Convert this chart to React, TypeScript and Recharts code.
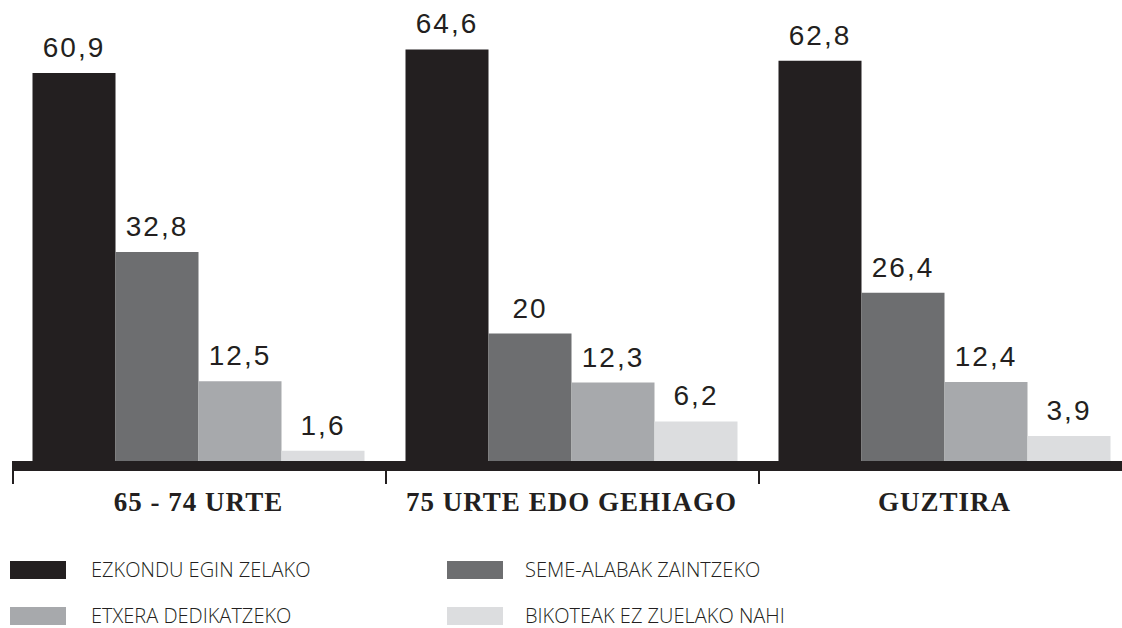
import React from "react";
import { BarChart, Bar, XAxis, YAxis, LabelList, Legend } from "recharts";

// categories and series values
const categories = ["65 - 74 URTE", "75 URTE EDO GEHIAGO", "GUZTIRA"];
const ezkondu = [60.9, 64.6, 62.8];
const semeAlabak = [32.8, 20, 26.4];
const etxera = [12.5, 12.3, 12.4];
const bikoteak = [1.6, 6.2, 3.9];

const seriesNames = [
  "EZKONDU EGIN ZELAKO",
  "SEME-ALABAK ZAINTZEKO",
  "ETXERA DEDIKATZEKO",
  "BIKOTEAK EZ ZUELAKO NAHI",
];
const colors = ["#231f20", "#6d6e70", "#a7a9ac", "#dcdddf"];

const data = categories.map((name, i) => ({
  name,
  s0: ezkondu[i],
  s1: semeAlabak[i],
  s2: etxera[i],
  s3: bikoteak[i],
}));

const CHART_W = 1135;
const CHART_H = 628;
const MARGIN = { top: 15, right: 4, left: 12, bottom: 22 };
const BAND = (CHART_W - MARGIN.left - MARGIN.right) / categories.length;
const INK = "#231f20";

const fmt = (v: any) => String(v).replace(".", ",");

const CategoryTick = (props: any) => {
  const { x, y, payload } = props;
  const bx = x - BAND / 2 + 1;
  return (
    <g>
      <line x1={bx} x2={bx} y1={y + 5} y2={y + 18} stroke={INK} strokeWidth={2} />
      <text
        x={x}
        y={y + 45}
        textAnchor="middle"
        fill={INK}
        fontFamily="'Liberation Serif', 'Times New Roman', serif"
        fontWeight="bold"
        fontSize={27}
        letterSpacing={1}
      >
        {payload.value}
      </text>
    </g>
  );
};

const LegendBox = () => {
  // two columns, two rows as in the reference
  const order = [0, 1, 2, 3];
  return (
    <div style={{ display: "flex", flexWrap: "wrap", width: 1122 }}>
      {order.map((i) => (
        <div
          key={i}
          style={{
            width: i % 2 === 0 ? 437 : 600,
            height: 46,
            display: "flex",
            alignItems: "center",
          }}
        >
          <div style={{ width: 56, height: 18, background: colors[i], marginLeft: 10 }} />
          <span
            style={{
              marginLeft: i % 2 === 0 ? 25 : 22,
              fontFamily: "'Open Sans', sans-serif",
              fontWeight: 300,
              fontSize: 20,
              color: INK,
              lineHeight: "20px",
            }}
          >
            {seriesNames[i]}
          </span>
        </div>
      ))}
    </div>
  );
};

const App = () => {
  return (
    <div
      style={{
        position: "absolute",
        left: 0,
        top: 0,
        width: 1122,
        height: 628,
        overflow: "hidden",
        background: "#fff",
      }}
    >
      <BarChart
        width={CHART_W}
        height={CHART_H}
        data={data}
        margin={MARGIN}
        barCategoryGap={20.5}
        barGap={0}
      >
        <XAxis
          dataKey="name"
          axisLine={{ stroke: INK, strokeWidth: 10 }}
          tickLine={false}
          tickSize={0}
          tickMargin={0}
          height={60}
          interval={0}
          tick={<CategoryTick />}
        />
        <YAxis hide domain={[-0.79, 70]} allowDataOverflow />
        <Legend
          verticalAlign="bottom"
          height={80}
          wrapperStyle={{ left: 0, top: 547, width: 1122 }}
          content={<LegendBox />}
        />
        {["s0", "s1", "s2", "s3"].map((k, i) => (
          <Bar key={k} dataKey={k} name={seriesNames[i]} fill={colors[i]} isAnimationActive={false}>
            <LabelList
              dataKey={k}
              position="top"
              offset={16}
              formatter={fmt}
              fill={INK}
              fontSize={28}
              letterSpacing={2}
              fontFamily="'Liberation Sans', Arial, sans-serif"
            />
          </Bar>
        ))}
      </BarChart>
    </div>
  );
};

export default App;
